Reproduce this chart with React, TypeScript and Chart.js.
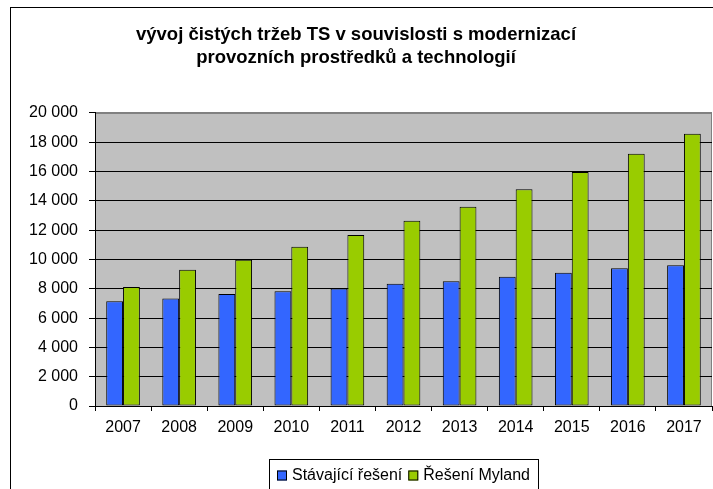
import React, { useEffect, useRef } from "react";
import { Chart, registerables } from "chart.js";

Chart.register(...registerables);

const years = ["2007", "2008", "2009", "2010", "2011", "2012", "2013", "2014", "2015", "2016", "2017"];
const stavajici = [7150, 7340, 7650, 7840, 8020, 8340, 8520, 8820, 9090, 9410, 9600];
const myland = [8130, 9300, 9980, 10870, 11670, 12650, 13600, 14790, 15970, 17220, 18590];
const seriesNames = ["Stávající řešení", "Řešení Myland"];
const titleLines = ["vývoj čistých tržeb TS v souvislosti s modernizací", "provozních prostředků a technologií"];

const FONT = "'Liberation Sans', Arial, sans-serif";

const fmt = (v: number) => String(v).replace(/\B(?=(\d{3})+(?!\d))/g, " ");

const framePlugin = {
  id: "frame",
  beforeDraw(chart: any) {
    const { ctx, chartArea } = chart;
    ctx.save();
    ctx.fillStyle = "#ffffff";
    ctx.fillRect(0, 0, chart.width, chart.height);
    ctx.strokeStyle = "#000000";
    ctx.lineWidth = 1;
    ctx.strokeRect(10.5, 7.5, 1000, 1000);
    ctx.fillStyle = "#C0C0C0";
    ctx.fillRect(chartArea.left, chartArea.top, chartArea.right - chartArea.left, chartArea.bottom - chartArea.top);
    ctx.strokeStyle = "#808080";
    ctx.strokeRect(chartArea.left + 0.5, chartArea.top + 0.5, chartArea.right - chartArea.left - 1, chartArea.bottom - chartArea.top);
    ctx.restore();
  },
  afterDraw(chart: any) {
    const { ctx } = chart;
    const ds = chart.data.datasets;
    ctx.save();
    ctx.font = `16px ${FONT}`;
    ctx.textBaseline = "middle";
    ctx.textAlign = "left";
    const boxLeft = 269;
    const boxTop = 459;
    const cy = 475.5;
    let x = boxLeft + 8;
    const positions: number[] = [];
    ds.forEach((d: any) => {
      positions.push(x);
      const w = ctx.measureText(d.label).width;
      x += 10 + 5 + w + 6;
    });
    const boxRight = x + 2;
    ctx.strokeStyle = "#000";
    ctx.lineWidth = 1;
    ctx.strokeRect(boxLeft + 0.5, boxTop + 0.5, boxRight - boxLeft, 60);
    ds.forEach((d: any, i: number) => {
      const px = positions[i];
      ctx.fillStyle = d.backgroundColor;
      ctx.fillRect(px, cy - 5, 10, 10);
      ctx.strokeStyle = "#000";
      ctx.strokeRect(px + 0.5, cy - 4.5, 9, 9);
      ctx.fillStyle = "#000";
      ctx.fillText(d.label, px + 15, cy);
    });
    ctx.restore();
  },
};

export default function App() {
  const ref = useRef<HTMLCanvasElement | null>(null);
  useEffect(() => {
    document.body.style.margin = "0";
    const canvas = ref.current;
    if (!canvas) return;
    const chart = new Chart(canvas, {
      type: "bar",
      data: {
        labels: years,
        datasets: [
          {
            label: seriesNames[0],
            data: stavajici,
            backgroundColor: "#3366FF",
            borderColor: "#000000",
            borderWidth: 1,
            borderSkipped: false,
          },
          {
            label: seriesNames[1],
            data: myland,
            backgroundColor: "#99CC00",
            borderColor: "#000000",
            borderWidth: 1,
            borderSkipped: false,
          },
        ],
      },
      options: {
        responsive: false,
        animation: false,
        events: [],
        layout: { padding: { left: 0, right: 1, top: 0, bottom: 53 } },
        datasets: { bar: { categoryPercentage: 0.6, barPercentage: 1.0 } },
        plugins: {
          legend: { display: false },
          tooltip: { enabled: false },
          title: {
            display: true,
            text: titleLines,
            color: "#000",
            font: { family: FONT, size: 18.5, weight: "bold", lineHeight: 1.27 },
            padding: { top: 23, bottom: 43 },
          },
        },
        scales: {
          x: {
            afterFit: (s: any) => {
              s.height = 30;
            },
            grid: {
              offset: true,
              drawOnChartArea: false,
              drawTicks: true,
              tickLength: 5,
              color: "#000",
            },
            border: { color: "#000", width: 1 },
            ticks: { color: "#000", font: { family: FONT, size: 16 }, padding: 7, maxRotation: 0 },
          },
          y: {
            min: 0,
            max: 20000,
            afterFit: (s: any) => {
              s.width = 95;
            },
            grid: {
              color: (c: any) => (c.tick && c.tick.value === 20000 ? "#808080" : "#000"),
              tickColor: "#000",
              tickLength: 6,
              lineWidth: 1,
            },
            border: { color: "#000", width: 1 },
            ticks: {
              stepSize: 2000,
              color: "#000",
              font: { family: FONT, size: 16 },
              padding: 11,
              callback: (v: any) => fmt(Number(v)),
            },
          },
        },
      },
      plugins: [framePlugin],
    });
    return () => chart.destroy();
  }, []);
  return (
    <div style={{ width: 713, height: 489 }}>
      <canvas ref={ref} width={713} height={489} />
    </div>
  );
}
